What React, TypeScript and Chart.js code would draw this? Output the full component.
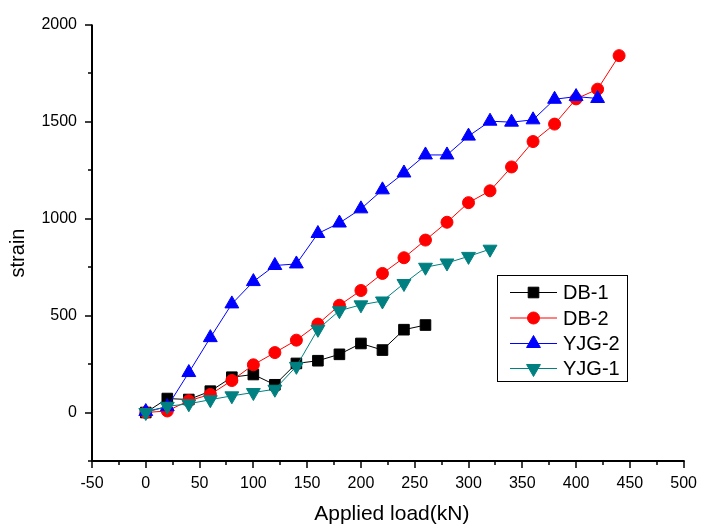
import React, { useEffect, useRef } from 'react';
import { Chart, registerables } from 'chart.js';

Chart.register(...registerables);

// ---- data ----
const loadsDB1 = [0, 20, 40, 60, 80, 100, 120, 140, 160, 180, 200, 220, 240, 260];
const strainDB1 = [0, 72, 67, 110, 182, 196, 143, 253, 267, 300, 356, 322, 427, 451];

const loadsDB2 = [0, 20, 40, 60, 80, 100, 120, 140, 160, 180, 200, 220, 240, 260, 280, 300, 320, 340, 360, 380, 400, 420, 440];
const strainDB2 = [0, 8, 61, 93, 165, 246, 309, 373, 456, 553, 629, 717, 798, 889, 981, 1082, 1143, 1266, 1397, 1487, 1617, 1667, 1840];

const loadsYJG2 = [0, 20, 40, 60, 80, 100, 120, 140, 160, 180, 200, 220, 240, 260, 280, 300, 320, 340, 360, 380, 400, 420];
const strainYJG2 = [5, 30, 206, 386, 560, 675, 758, 766, 923, 977, 1050, 1148, 1235, 1328, 1328, 1425, 1502, 1497, 1509, 1615, 1629, 1619];

const loadsYJG1 = [0, 20, 40, 60, 80, 100, 120, 140, 160, 180, 200, 220, 240, 260, 280, 300, 320];
const strainYJG1 = [0, 32, 45, 66, 86, 103, 120, 238, 429, 525, 555, 575, 665, 749, 771, 805, 842];

const seriesNames = ['DB-1', 'DB-2', 'YJG-2', 'YJG-1'];
const seriesColors = ['#000000', '#ff0000', '#0000ff', '#008080'];
const xTitle = 'Applied load(kN)';
const yTitle = 'strain';
const xMin = -50, xMax = 500, xStep = 25, xLabelStep = 50;
const yMin = -250, yMax = 2000, yStep = 250, yLabelStep = 500;

const FONT = '"Liberation Sans", Arial, Helvetica, sans-serif';

type Marker = { style: string; radius: number; rotation: number };
const markers: Marker[] = [
  { style: 'rect', radius: 7.5, rotation: 0 },
  { style: 'circle', radius: 6, rotation: 0 },
  { style: 'triangle', radius: 8, rotation: 0 },
  { style: 'triangle', radius: 8, rotation: 180 },
];

function toPoints(xs: number[], ys: number[]) {
  return xs.map((x, i) => ({ x, y: ys[i] }));
}

function drawMarker(ctx: CanvasRenderingContext2D, m: Marker, x: number, y: number, color: string) {
  ctx.save();
  ctx.fillStyle = color;
  ctx.strokeStyle = color;
  ctx.lineWidth = 1;
  ctx.beginPath();
  if (m.style === 'rect') {
    const s = Math.SQRT1_2 * m.radius;
    ctx.rect(x - s, y - s, 2 * s, 2 * s);
  } else if (m.style === 'circle') {
    ctx.arc(x, y, m.radius, 0, Math.PI * 2);
  } else {
    let rad = (m.rotation * Math.PI) / 180;
    const r = m.radius;
    ctx.moveTo(x + Math.sin(rad) * r, y - Math.cos(rad) * r);
    rad += (2 * Math.PI) / 3;
    ctx.lineTo(x + Math.sin(rad) * r, y - Math.cos(rad) * r);
    rad += (2 * Math.PI) / 3;
    ctx.lineTo(x + Math.sin(rad) * r, y - Math.cos(rad) * r);
    ctx.closePath();
  }
  ctx.fill();
  ctx.stroke();
  ctx.restore();
}

const decorPlugin = {
  id: 'decor',
  afterDraw(chart: any) {
    const { ctx, chartArea, scales } = chart;
    const xs = scales.x;
    const ys = scales.y;
    ctx.save();
    ctx.strokeStyle = '#000';
    ctx.lineWidth = 2;
    ctx.beginPath();
    ctx.moveTo(chartArea.left, chartArea.top);
    ctx.lineTo(chartArea.left, chartArea.bottom);
    ctx.lineTo(chartArea.right + 1, chartArea.bottom);
    ctx.stroke();

    ctx.lineWidth = 1.5;
    ctx.beginPath();
    xs.ticks.forEach((t: any) => {
      const px = Math.round(xs.getPixelForValue(t.value));
      const len = t.value % xLabelStep === 0 ? 7 : 4;
      ctx.moveTo(px, chartArea.bottom);
      ctx.lineTo(px, chartArea.bottom + len);
    });
    ys.ticks.forEach((t: any) => {
      const py = Math.round(ys.getPixelForValue(t.value));
      const len = t.value % yLabelStep === 0 ? 7 : 4;
      ctx.moveTo(chartArea.left, py);
      ctx.lineTo(chartArea.left - len, py);
    });
    ctx.stroke();

    // axis titles
    ctx.fillStyle = '#000';
    ctx.font = `21px ${FONT}`;
    ctx.textAlign = 'center';
    ctx.textBaseline = 'alphabetic';
    ctx.fillText(xTitle, (chartArea.left + chartArea.right) / 2 + 4, 520);
    ctx.font = `20px ${FONT}`;
    ctx.save();
    ctx.translate(23.5, 253);
    ctx.rotate(-Math.PI / 2);
    ctx.fillText(yTitle, 0, 0);
    ctx.restore();

    // legend
    const bx = 497, by = 275, bw = 130, bh = 106;
    ctx.fillStyle = '#fff';
    ctx.fillRect(bx, by, bw, bh);
    ctx.strokeStyle = '#000';
    ctx.lineWidth = 1;
    ctx.strokeRect(bx + 0.5, by + 0.5, bw, bh);
    const rowY = [292.5, 318, 343.5, 368.5];
    seriesNames.forEach((name, i) => {
      const y = rowY[i];
      ctx.strokeStyle = seriesColors[i];
      ctx.lineWidth = 1;
      ctx.beginPath();
      ctx.moveTo(510, y);
      ctx.lineTo(557, y);
      ctx.stroke();
      drawMarker(ctx, markers[i], 533.5, y, seriesColors[i]);
      ctx.fillStyle = '#000';
      ctx.font = `20px ${FONT}`;
      ctx.textAlign = 'left';
      ctx.textBaseline = 'middle';
      ctx.fillText(name, 563, y + 1);
    });
    ctx.restore();
  },
};

export default function App() {
  const ref = useRef<HTMLCanvasElement | null>(null);

  useEffect(() => {
    if (!ref.current) return;
    const allX = [loadsDB1, loadsDB2, loadsYJG2, loadsYJG1];
    const allY = [strainDB1, strainDB2, strainYJG2, strainYJG1];
    const datasets = seriesNames.map((name, i) => ({
      label: name,
      data: toPoints(allX[i], allY[i]),
      borderColor: seriesColors[i],
      backgroundColor: seriesColors[i],
      borderWidth: 1,
      pointStyle: markers[i].style,
      pointRadius: markers[i].radius,
      pointRotation: markers[i].rotation,
      pointBorderWidth: 1,
      pointBorderColor: seriesColors[i],
      pointBackgroundColor: seriesColors[i],
      showLine: true,
      tension: 0,
      fill: false,
      order: seriesNames.length - i,
      clip: false as any,
    }));

    const chart = new Chart(ref.current, {
      type: 'scatter',
      data: { datasets },
      options: {
        responsive: false,
        animation: false,
        layout: { padding: { top: 17, right: 17, left: 0, bottom: 0 } },
        plugins: { legend: { display: false }, tooltip: { enabled: false } },
        scales: {
          x: {
            type: 'linear',
            min: xMin,
            max: xMax,
            afterFit: (s: any) => { s.height = 70; },
            grid: { display: false, drawTicks: false },
            border: { display: false },
            ticks: {
              stepSize: xStep,
              autoSkip: false,
              maxRotation: 0,
              padding: 13,
              color: '#000',
              font: { family: FONT, size: 16 },
              callback: (v: any) => (Number(v) % xLabelStep === 0 ? String(v) : ''),
            },
          },
          y: {
            type: 'linear',
            min: yMin,
            max: yMax,
            afterFit: (s: any) => { s.width = 92; },
            grid: { display: false, drawTicks: false },
            border: { display: false },
            ticks: {
              stepSize: yStep,
              autoSkip: false,
              padding: 15,
              color: '#000',
              font: { family: FONT, size: 16 },
              callback: (v: any) => (Number(v) % yLabelStep === 0 ? String(v) : ''),
            },
          },
        },
      },
      plugins: [decorPlugin],
    });
    return () => chart.destroy();
  }, []);

  return (
    <div style={{ position: 'absolute', left: 0, top: 0, width: 710, height: 531, background: '#fff' }}>
      <canvas ref={ref} width={710} height={531} style={{ display: 'block' }} />
    </div>
  );
}
